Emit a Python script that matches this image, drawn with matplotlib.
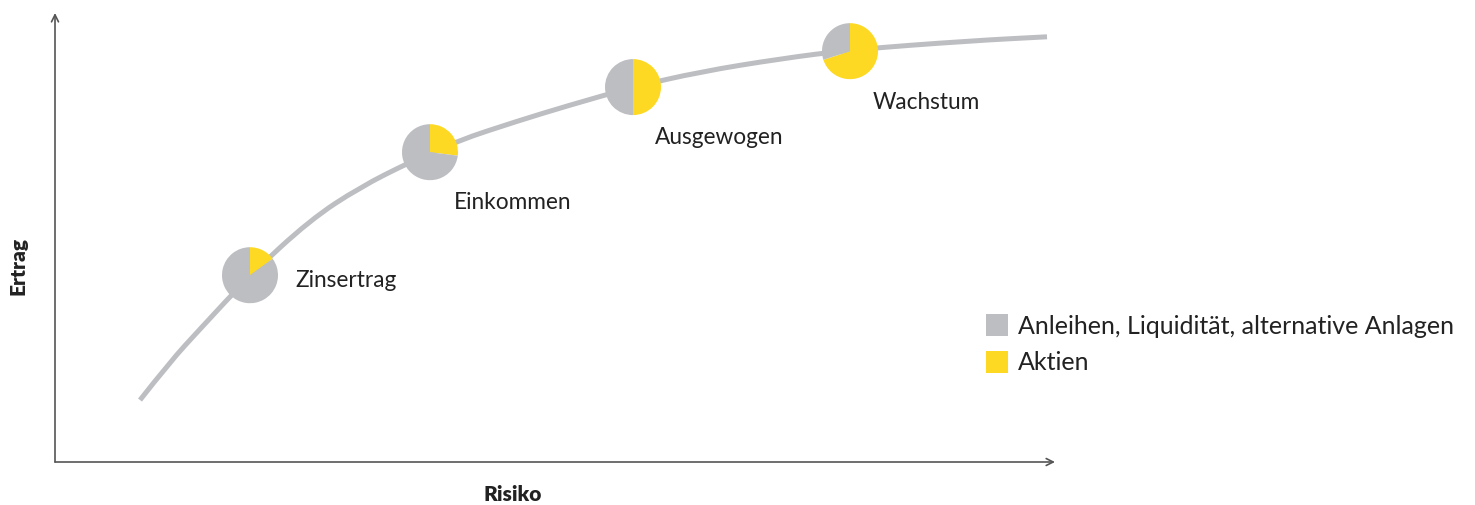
import matplotlib
matplotlib.use("Agg")
import matplotlib.pyplot as plt
from matplotlib.patches import Rectangle, PathPatch
from matplotlib.path import Path

plt.rcParams['font.family'] = ['Lato', 'DejaVu Sans']

# Risiko / Ertrag Kurve
kurve_risiko = [8.5, 11.5, 14.5, 19.5, 25.5, 30.5, 35.5, 40.2,
                46.2, 51.2, 57.8, 64.5, 72.5, 79.5, 91.5, 99.2]
kurve_ertrag = [13.8, 22.3, 29.6, 41.6, 53.9, 61.2, 66.8, 71.5,
                75.9, 79.3, 83.5, 86.9, 89.8, 91.8, 93.8, 94.7]

# Portfolios
namen = ['Zinsertrag', 'Einkommen', 'Ausgewogen', 'Wachstum']
risiko = [19.5, 37.5, 57.8, 79.5]
ertrag = [41.6, 69.0, 83.5, 91.5]
aktien = [15, 27, 50, 70]
anleihen = [100 - a for a in aktien]

legende = ['Anleihen, Liquidität, alternative Anlagen', 'Aktien']

grau = '#bdbec2'
gelb = '#fdd923'
achse = '#555555'
text = '#222222'

W, H = 1475, 506
fig = plt.figure(figsize=(W / 100, H / 100), dpi=100)
ax = fig.add_axes([55 / W, 43 / H, 1000 / W, 449 / H])
ax.set_xlim(0, 100)
ax.set_ylim(0, 100)
ax.axis('off')

# Achsen mit Pfeilen
pfeil = dict(arrowstyle='->,head_length=0.5,head_width=0.25', color=achse, lw=1.2,
             shrinkA=0, shrinkB=0)
ax.annotate('', xy=(100, 0), xytext=(0, 0), arrowprops=pfeil, annotation_clip=False)
ax.annotate('', xy=(0, 100), xytext=(0, 0), arrowprops=pfeil, annotation_clip=False)

pts = list(zip(kurve_risiko, kurve_ertrag))
verts = [pts[0]]
codes = [Path.MOVETO]
for k in range(1, len(pts) - 1):
    mid = ((pts[k][0] + pts[k + 1][0]) / 2, (pts[k][1] + pts[k + 1][1]) / 2)
    verts += [pts[k], mid]
    codes += [Path.CURVE3, Path.CURVE3]
verts.append(pts[-1])
codes.append(Path.LINETO)
ax.add_patch(PathPatch(Path(verts, codes), facecolor='none', edgecolor=grau,
                       lw=3.6, capstyle='butt', zorder=1))

fig.text(513 / W, 1 - 495 / H, 'Risiko', ha='center', va='center',
         fontsize=15, fontweight='heavy', color=text)
fig.text(18 / W, 1 - 266 / H, 'Ertrag', ha='center', va='center', rotation=90,
         fontsize=15, fontweight='heavy', color=text)

# Kuchen an den Portfolio-Punkten
r = 28
offsets = [(45, -4), (24, -49), (22, -49), (23, -50)]
fig.canvas.draw()
for i in range(len(namen)):
    px, py = ax.transData.transform((risiko[i], ertrag[i]))
    pax = fig.add_axes([(px - r) / W, (py - r) / H, 2 * r / W, 2 * r / H])
    pax.pie([aktien[i], anleihen[i]], colors=[gelb, grau], startangle=90,
            counterclock=False, radius=1)
    pax.set_xlim(-1, 1)
    pax.set_ylim(-1, 1)
    pax.axis('off')
    ax.annotate(namen[i], xy=(risiko[i], ertrag[i]), xytext=offsets[i],
                textcoords='offset pixels', ha='left', va='center',
                fontsize=16.3, color=text)

# Legende
for j, (lab, col) in enumerate(zip(legende, [grau, gelb])):
    y0 = 1 - (337 + j * 37) / H
    fig.patches.append(Rectangle((986 / W, y0), 22 / W, 22 / H, transform=fig.transFigure,
                                 facecolor=col, edgecolor='none'))
    fig.text(1018 / W, y0 + 11 / H, lab, ha='left', va='center', fontsize=18,
             color=text)

fig.savefig('out.png', dpi=100)
